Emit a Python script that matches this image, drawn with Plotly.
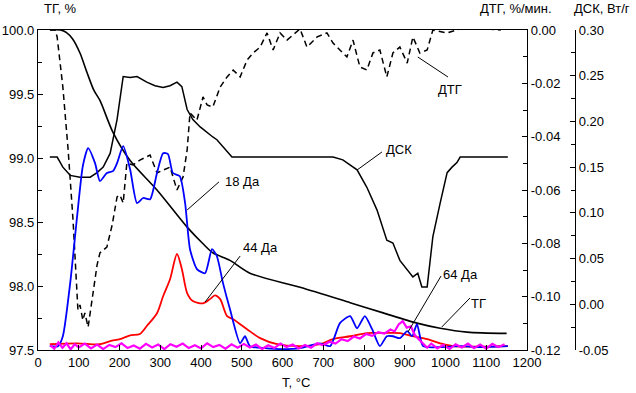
import plotly.graph_objects as go

# ---------------- data ----------------
# TG, % (left axis)
tg_t = [30, 55, 70, 85, 103, 120, 137, 152, 184, 226, 292, 366, 405, 429, 471, 520, 643, 766, 847, 930, 987, 1053, 1150]
tg_v = [100.0, 100.0, 99.98, 99.93, 99.82, 99.67, 99.53, 99.45, 99.20, 98.98, 98.75, 98.46, 98.33, 98.26, 98.20, 98.10, 97.99, 97.87, 97.79, 97.71, 97.67, 97.64, 97.63]

# DTG, %/min (first right axis)
dtg = [(29, 0), (42, 0), (47, -0.0026), (54, -0.0113), (61, -0.0214), (74, -0.045), (86, -0.0713),
       (98, -0.105), (103, -0.1031), (110, -0.1088), (115, -0.1061), (123, -0.1114), (133, -0.1013),
       (145, -0.0881), (152, -0.0836), (169, -0.0814), (182, -0.0731), (194, -0.0626), (201, -0.0619),
       (209, -0.0649), (218, -0.0499), (233, -0.0506), (250, -0.0488), (275, -0.0469), (292, -0.0536),
       (307, -0.0525), (324, -0.0514), (341, -0.060), (356, -0.0551), (366, -0.045), (373, -0.0311),
       (390, -0.0338), (405, -0.0251), (415, -0.0281), (429, -0.0289), (447, -0.0214), (464, -0.0176),
       (479, -0.015), (496, -0.0176), (513, -0.0113), (528, -0.0086), (545, -0.0064), (562, -0.0011),
       (577, -0.0075), (594, -0.0011), (611, -0.0038), (643, 0.0004), (660, -0.0064), (685, -0.0026),
       (709, -0.0011), (724, -0.0049), (758, -0.0101), (773, -0.0038), (790, -0.0139), (807, -0.015),
       (822, -0.0086), (839, -0.0075), (856, -0.0176), (871, -0.0086), (888, -0.0064), (906, -0.0124),
       (920, -0.0026), (937, -0.0086), (955, -0.0075), (969, 0), (1004, -0.0011), (1036, 0.0004),
       (1085, 0.0006), (1134, 0), (1146, 0.003), (1153, 0.0005)]
dtg_t = [p[0] for p in dtg]
dtg_v = [p[1] for p in dtg]

# DSC, W/g (second right axis)
dsc = [(29, 0.161), (47, 0.161), (61, 0.150), (79, 0.141), (103, 0.139), (128, 0.139), (145, 0.144),
       (160, 0.150), (177, 0.165), (194, 0.202), (209, 0.249), (226, 0.248), (243, 0.249), (267, 0.243),
       (287, 0.239), (307, 0.237), (324, 0.239), (341, 0.243), (353, 0.238), (366, 0.213), (380, 0.202),
       (398, 0.194), (429, 0.183), (439, 0.180), (476, 0.161), (562, 0.161), (643, 0.161), (724, 0.161),
       (748, 0.158), (783, 0.147), (807, 0.128), (832, 0.103), (856, 0.070), (871, 0.067), (888, 0.048),
       (906, 0.038), (920, 0.030), (932, 0.034), (942, 0.019), (955, 0.019), (969, 0.074), (987, 0.111),
       (1004, 0.144), (1016, 0.150), (1028, 0.155), (1036, 0.161), (1085, 0.161), (1153, 0.161)]
dsc_t = [p[0] for p in dsc]
dsc_v = [p[1] for p in dsc]

# Mass-spectrometer ion currents, relative units (hidden axis)
ms18 = [(29, 0), (49, 0), (61, 3.1), (79, 19.7), (96, 40.6), (110, 56.3), (123, 61.9), (140, 57.2),
        (152, 51.6), (169, 54.1), (184, 54.7), (194, 57.2), (209, 62.5), (226, 55.3), (243, 44.7),
        (258, 46.3), (275, 45.9), (292, 54.1), (307, 60.3), (319, 60.0), (331, 54.1), (348, 53.1),
        (361, 44.7), (373, 30.3), (390, 24.1), (410, 22.8), (427, 30.3), (439, 28.1), (454, 19.7),
        (471, 11.6), (496, 0.9), (508, 3.1), (520, 0), (557, -0.6), (601, -0.9), (643, -0.6),
        (692, 0.9), (717, 0), (741, 7.2), (766, 9.4), (783, 5.6), (802, 9.4), (820, 5.3), (839, 0),
        (856, 3.1), (871, 3.1), (888, 2.5), (906, 4.7), (918, 3.1), (930, 6.9), (945, 0),
        (987, -0.3), (1036, 0), (1085, -0.3), (1153, 0)]
ms18_t = [p[0] for p in ms18]
ms18_v = [p[1] for p in ms18]

ms44 = [(29, 0.6), (96, 0.9), (152, 0.6), (177, 1.6), (201, 2.2), (226, 3.4), (250, 3.8), (267, 6.3),
        (292, 10.3), (307, 15.6), (324, 20.9), (341, 28.8), (353, 24.1), (366, 16.6), (380, 14.1),
        (405, 13.4), (422, 14.7), (434, 15.9), (447, 14.7), (464, 9.4), (479, 8.4), (513, 5.3),
        (545, 2.5), (587, 0.6), (643, 0), (692, 0.6), (724, 2.2), (766, 3.1), (807, 4.1), (847, 4.1),
        (888, 4.1), (920, 3.1), (955, 2.2), (987, 0.9), (1018, 0), (1153, 0)]
ms44_t = [p[0] for p in ms44]
ms44_v = [p[1] for p in ms44]

ms64 = [(30, 0.3), (40, -0.8), (50, 1.2), (60, -0.5), (70, 0.9), (80, -1.0), (90, 0.6), (100, -0.4),
        (115, 0.8), (130, -0.7), (145, 0.5), (160, -0.9), (175, 0.4), (190, -0.3), (205, 0.9),
        (220, -0.6), (235, 0.2), (250, -0.8), (265, 0.7), (280, -0.4), (295, 0.5), (310, -0.9),
        (325, 0.6), (340, -0.2), (355, 0.8), (370, -0.6), (385, 0.3), (400, -0.7), (415, 0.9),
        (430, -0.3), (445, 0.4), (460, -0.8), (475, 0.6), (490, -0.5), (505, 0.7), (520, -0.4),
        (535, 0.5), (550, -0.9), (565, 0.3), (580, -0.6), (595, 0.8), (610, -0.3), (625, 0.5),
        (640, -0.7), (655, 0.4), (670, -0.5), (685, 0.9), (700, 0.3), (715, 1.4), (730, 0.8),
        (745, 2.2), (760, 1.6), (775, 3.0), (790, 2.4), (805, 3.8), (820, 3.2), (835, 4.4),
        (850, 3.9), (865, 5.2), (875, 4.6), (885, 6.8), (895, 7.8), (905, 5.8), (915, 6.2),
        (925, 3.4), (935, 2.0), (945, 0.6), (955, -0.5), (965, 0.8), (980, -0.7), (995, 0.4),
        (1010, -0.9), (1025, 0.6), (1040, -0.4), (1055, 0.8), (1070, -0.6), (1085, 0.5),
        (1100, -0.8), (1115, 0.7), (1130, -0.3), (1145, 0.6)]
ms64_t = [p[0] for p in ms64]
ms64_v = [p[1] for p in ms64]

# tick labels
x_ticks = list(range(0, 1300, 100))
tg_ticks = [97.5, 98.0, 98.5, 99.0, 99.5, 100.0]
dtg_ticks = [0.0, -0.02, -0.04, -0.06, -0.08, -0.10, -0.12]
dtg_labels = ["0.00", "-0.02", "-0.04", "-0.06", "-0.08", "-0.10", "-0.12"]
dsc_ticks = [-0.05, 0.0, 0.05, 0.10, 0.15, 0.20, 0.25, 0.30]
dsc_labels = ["-0.05", "0.00", "0.05", "0.10", "0.15", "0.20", "0.25", "0.30"]

# curve labels: (text, leader start T, TG, leader end T, TG, text T, TG)
labels = [
    ("ДТГ", 932, 99.789, 1006, 99.633, 1011, 99.539),
    ("ДСК", 783, 98.906, 844, 99.047, 886, 99.063),
    ("18 Да", 366, 98.594, 444, 98.813, 503, 98.813),
    ("44 Да", 410, 97.875, 496, 98.234, 545, 98.297),
    ("64 Да", 908, 97.641, 989, 98.078, 1036, 98.086),
    ("ТГ", 991, 97.680, 1060, 97.906, 1080, 97.867),
]

# ---------------- figure ----------------
FONT = "Liberation Sans, Arial, sans-serif"
W, H = 636, 393
ML, MR, MT, MB = 38, 61, 30, 43
PW, PH = W - ML - MR, H - MT - MB
plot_right = 527
xdom = (plot_right - ML) / PW

fig = go.Figure()

fig.add_trace(go.Scatter(x=dsc_t, y=dsc_v, yaxis="y3", mode="lines",
                         line=dict(color="black", width=1.5), name="ДСК"))
fig.add_trace(go.Scatter(x=tg_t, y=tg_v, yaxis="y", mode="lines",
                         line=dict(color="black", width=1.6, shape="spline", smoothing=0.8), name="ТГ"))
fig.add_trace(go.Scatter(x=dtg_t, y=dtg_v, yaxis="y2", mode="lines",
                         line=dict(color="black", width=1.5, dash="6px,4px"), name="ДТГ"))
fig.add_trace(go.Scatter(x=ms44_t, y=ms44_v, yaxis="y4", mode="lines",
                         line=dict(color="#ff0000", width=1.8, shape="spline", smoothing=0.8), name="44 Да"))
fig.add_trace(go.Scatter(x=ms18_t, y=ms18_v, yaxis="y4", mode="lines",
                         line=dict(color="#0000ff", width=1.8, shape="spline", smoothing=0.6), name="18 Да"))
fig.add_trace(go.Scatter(x=ms64_t, y=ms64_v, yaxis="y4", mode="lines",
                         line=dict(color="#ff00ff", width=2.2), name="64 Да"))

axis_common = dict(showgrid=False, zeroline=False, showline=True, linecolor="black", linewidth=1.3,
                   ticks="inside", ticklen=5, tickcolor="black", tickwidth=1.2, automargin=False,
                   tickfont=dict(family=FONT, size=13, color="black"))

fig.update_layout(
    width=W, height=H, autosize=False,
    margin=dict(l=ML, r=MR, t=MT, b=MB, autoexpand=False),
    paper_bgcolor="white", plot_bgcolor="white",
    showlegend=False,
    font=dict(family=FONT, size=13, color="black"),
    xaxis=dict(domain=[0, xdom], range=[0, 1200], tickvals=x_ticks, mirror=True, **axis_common),
    yaxis=dict(range=[97.5, 100.0], tickvals=tg_ticks, tickformat=".1f",
               minor=dict(ticks="inside", dtick=0.25, ticklen=4, tickcolor="black"), **axis_common),
    yaxis2=dict(range=[-0.12, 0.0], overlaying="y", side="right", anchor="x",
                tickvals=dtg_ticks, ticktext=dtg_labels,
                minor=dict(ticks="inside", dtick=0.01, ticklen=4, tickcolor="black"), **axis_common),
    yaxis3=dict(range=[-0.05, 0.30], overlaying="y", side="right", anchor="free", position=1.0,
                tickvals=dsc_ticks, ticktext=dsc_labels,
                minor=dict(ticks="inside", dtick=0.025, ticklen=4, tickcolor="black"), **axis_common),
    yaxis4=dict(range=[-1.2, 98.8], overlaying="y", visible=False),
)

# axis titles (positions given in window pixels)
def px_to_paper(px, py):
    return (px - ML) / PW, (H - MB - py) / PH

for txt, cx, cy in [("ТГ, %", 60, 9), ("ДТГ, %/мин.", 516, 9), ("ДСК, Вт/г", 602, 9), ("T, °C", 296, 382)]:
    xp, yp = px_to_paper(cx, cy)
    fig.add_annotation(text=txt, xref="paper", yref="paper", x=xp, y=yp, xanchor="center", yanchor="middle",
                       showarrow=False, font=dict(family=FONT, size=13))

# curve labels with leader lines
for txt, x0, y0, x1, y1, tx, ty in labels:
    fig.add_shape(type="line", xref="x", yref="y", x0=x0, y0=y0, x1=x1, y1=y1,
                  line=dict(color="black", width=1))
    fig.add_annotation(text=txt, xref="x", yref="y", x=tx, y=ty, xanchor="center", yanchor="middle",
                       showarrow=False, font=dict(family=FONT, size=13))

# remove the browser's default page margin so the figure starts at the window corner
fig.write_html("out.html", config={"displayModeBar": False},
               post_script="document.body.style.margin='0';document.body.style.overflow='hidden';")
